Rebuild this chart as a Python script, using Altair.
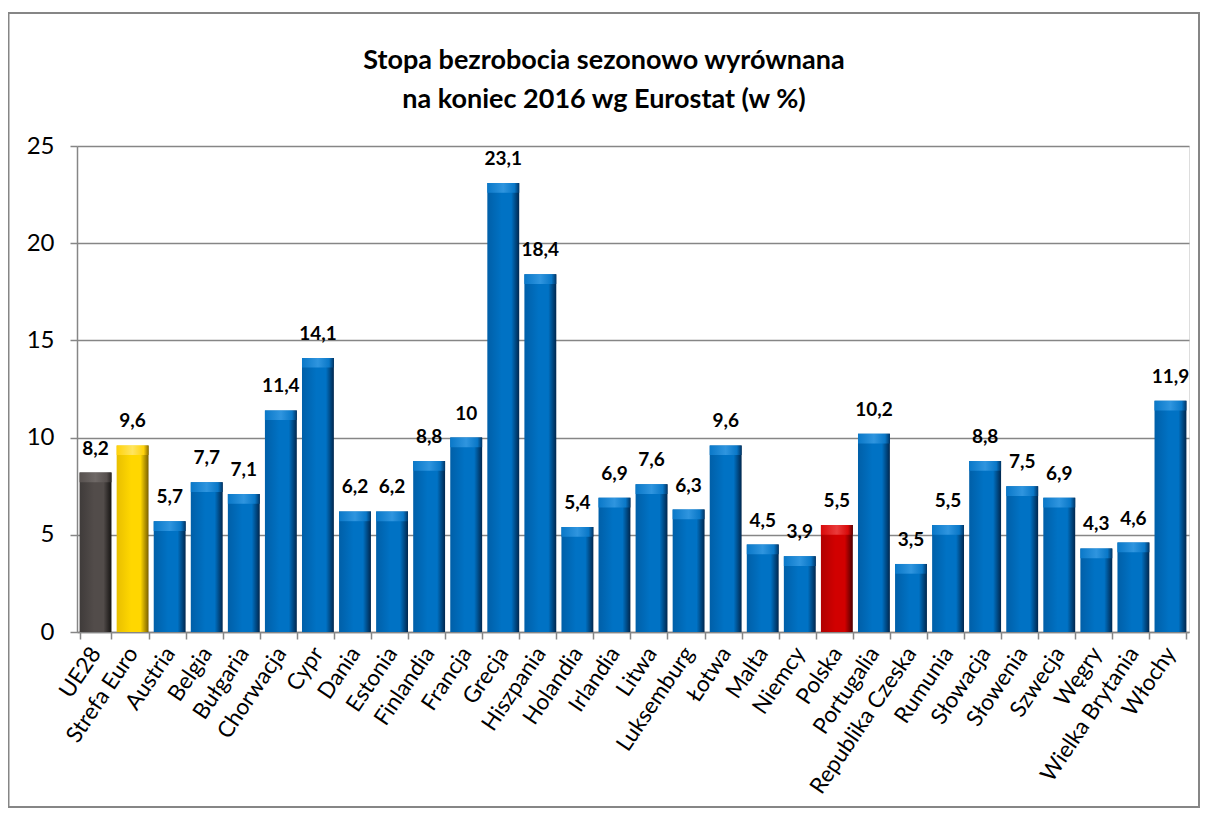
import altair as alt
import pandas as pd

categories = ["UE28", "Strefa Euro", "Austria", "Belgia", "Bułgaria", "Chorwacja", "Cypr",
              "Dania", "Estonia", "Finlandia", "Francja", "Grecja", "Hiszpania", "Holandia",
              "Irlandia", "Litwa", "Luksemburg", "Łotwa", "Malta", "Niemcy", "Polska",
              "Portugalia", "Republika Czeska", "Rumunia", "Słowacja", "Słowenia", "Szwecja",
              "Węgry", "Wielka Brytania", "Włochy"]
values = [8.2, 9.6, 5.7, 7.7, 7.1, 11.4, 14.1, 6.2, 6.2, 8.8, 10, 23.1, 18.4, 5.4,
          6.9, 7.6, 6.3, 9.6, 4.5, 3.9, 5.5, 10.2, 3.5, 5.5, 8.8, 7.5, 6.9, 4.3, 4.6, 11.9]
groups = ["ue", "euro"] + ["kraj"] * 18 + ["pl"] + ["kraj"] * 9
title_lines = ["Stopa bezrobocia sezonowo wyrównana", "na koniec 2016 wg Eurostat (w %)"]

df = pd.DataFrame({"kraj": categories, "wartosc": values, "grupa": groups})
df["etykieta"] = [("%g" % v).replace(".", ",") for v in values]

def grad(c1, c2, c3):
    return alt.Gradient(gradient="linear", x1=0, x2=1, y1=0, y2=0,
                        stops=[alt.GradientStop(color=c1, offset=0),
                               alt.GradientStop(color=c2, offset=0.45),
                               alt.GradientStop(color=c2, offset=0.75),
                               alt.GradientStop(color=c3, offset=1)])

def cap(c_edge, c_mid, c_dark):
    return alt.Gradient(gradient="linear", x1=0, x2=1, y1=0, y2=0,
                        stops=[alt.GradientStop(color=c_edge, offset=0),
                               alt.GradientStop(color=c_mid, offset=0.5),
                               alt.GradientStop(color=c_edge, offset=0.85),
                               alt.GradientStop(color=c_dark, offset=1)])

fills = {
    "ue": (grad("#3f3b3a", "#524c4a", "#151312"), cap("#57514f", "#6e6866", "#2a2625")),
    "euro": (grad("#e8bf00", "#ffd700", "#7a6000"), cap("#ffd20a", "#ffe560", "#8a6d00")),
    "kraj": (grad("#005fa8", "#0072c4", "#00264d"), cap("#0a78c8", "#2f95df", "#003566")),
    "pl": (grad("#b00000", "#d10000", "#4d0000"), cap("#d80a0a", "#ea3b3b", "#600000")),
}

x_enc = alt.X("kraj:N", sort=categories, title=None,
              scale=alt.Scale(paddingInner=0.14, paddingOuter=0.07),
              axis=alt.Axis(labelAngle=-56, labelFontSize=22.5, labelFont="Lato",
                            labelColor="#000000", labelPadding=10, tickBand="extent",
                            tickSize=7, tickColor="#868686", tickWidth=1.5,
                            domainColor="#868686", domainWidth=1.5, grid=False,
                            labelAlign="right", labelBaseline="middle"))
y_enc = alt.Y("wartosc:Q", title=None,
              scale=alt.Scale(domain=[0, 25], nice=False),
              axis=alt.Axis(values=[0, 5, 10, 15, 20, 25], labelFontSize=24,
                            labelFont="Lato", labelColor="#000000", labelPadding=16,
                            tickSize=7, tickColor="#868686", tickWidth=1.5,
                            domainColor="#868686", domainWidth=1.5,
                            gridColor="#868686", gridWidth=1.5))

base = alt.Chart(df)
layers = []
for g, (f, c) in fills.items():
    sub = base.transform_filter(alt.datum.grupa == g)
    layers.append(sub.mark_bar(color=f, stroke=None).encode(x=x_enc, y=y_enc))
    layers.append(sub.transform_calculate(top2="datum.wartosc - 0.5")
                  .mark_bar(color=c, stroke=None)
                  .encode(x=alt.X("kraj:N", sort=categories), y="wartosc:Q", y2="top2:Q"))

labels = base.mark_text(fontSize=19, fontWeight="bold", font="Lato", baseline="alphabetic",
                        dy=-18, color="#000000").encode(
    x=alt.X("kraj:N", sort=categories), y="wartosc:Q", text="etykieta:N")

tdf = pd.DataFrame({"t": title_lines, "i": [0, 1]})
title1 = alt.Chart(tdf).transform_filter(alt.datum.i == 0).mark_text(
    fontSize=27, fontWeight="bold", font="Lato", color="#000000", align="center",
    baseline="alphabetic").encode(x=alt.value(527), y=alt.value(-77), text="t:N")
title2 = alt.Chart(tdf).transform_filter(alt.datum.i == 1).mark_text(
    fontSize=27, fontWeight="bold", font="Lato", color="#000000", align="center",
    baseline="alphabetic").encode(x=alt.value(527), y=alt.value(-38), text="t:N")

border = alt.Chart(pd.DataFrame({"a": [0]})).mark_rect(
    fill=None, stroke="#868686", strokeWidth=2).encode(
    x=alt.value(-68.5), x2=alt.value(1122), y=alt.value(-133), y2=alt.value(661))

chart = alt.layer(border, *layers, labels, title1, title2).properties(
    width=1112, height=486,
    autosize=alt.AutoSizeParams(type="none"),
    padding={"left": 69, "top": 138, "right": 11, "bottom": 176},
).configure_view(stroke=None).configure(background="#ffffff")

chart.save("out.html", embed_options={"renderer": "svg", "actions": False})
